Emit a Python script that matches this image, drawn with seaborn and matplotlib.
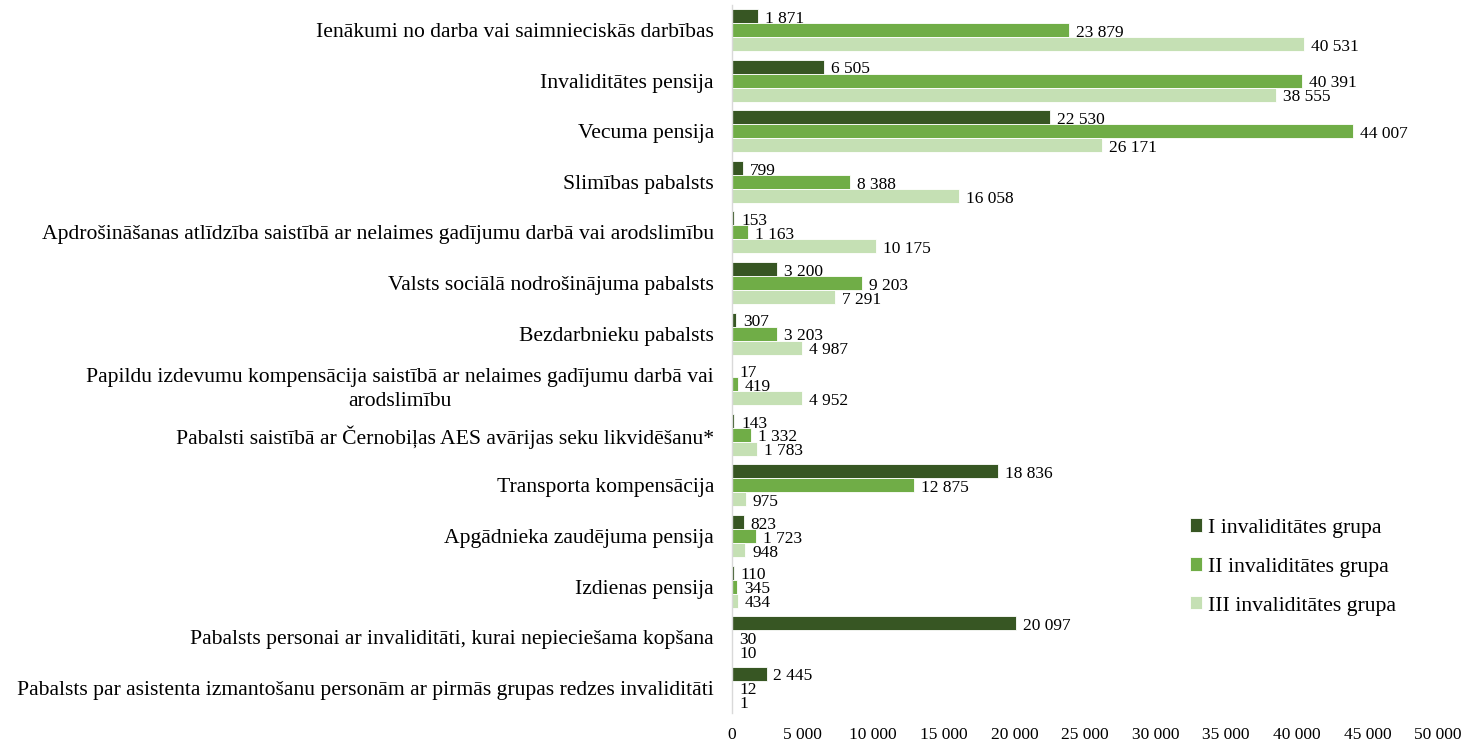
import pandas as pd
import matplotlib.pyplot as plt
import seaborn as sns

categories = [
    "Ienākumi no darba vai saimnieciskās darbības",
    "Invaliditātes pensija",
    "Vecuma pensija",
    "Slimības pabalsts",
    "Apdrošināšanas atlīdzība saistībā ar nelaimes gadījumu darbā vai arodslimību",
    "Valsts sociālā nodrošinājuma pabalsts",
    "Bezdarbnieku pabalsts",
    "Papildu izdevumu kompensācija saistībā ar nelaimes gadījumu darbā vai\narodslimību",
    "Pabalsti saistībā ar Černobiļas AES avārijas seku likvidēšanu*",
    "Transporta kompensācija",
    "Apgādnieka zaudējuma pensija",
    "Izdienas pensija",
    "Pabalsts personai ar invaliditāti, kurai nepieciešama kopšana",
    "Pabalsts par asistenta izmantošanu personām ar pirmās grupas redzes invaliditāti",
]
group_names = ["I invaliditātes grupa", "II invaliditātes grupa", "III invaliditātes grupa"]
group_1 = [1871, 6505, 22530, 799, 153, 3200, 307, 17, 143, 18836, 823, 110, 20097, 2445]
group_2 = [23879, 40391, 44007, 8388, 1163, 9203, 3203, 419, 1332, 12875, 1723, 345, 30, 12]
group_3 = [40531, 38555, 26171, 16058, 10175, 7291, 4987, 4952, 1783, 975, 948, 434, 10, 1]
colors = ["#375623", "#70AD47", "#C5E0B4"]

rows = []
for name, vals in zip(group_names, [group_1, group_2, group_3]):
    for cat, v in zip(categories, vals):
        rows.append({"category": cat, "value": v, "group": name})
df = pd.DataFrame(rows)

sns.set_style("white")
plt.rcParams["font.family"] = ["Liberation Serif", "DejaVu Serif"]
plt.rcParams["text.color"] = "black"
plt.rcParams["xtick.color"] = "black"
plt.rcParams["ytick.color"] = "black"

fig = plt.figure(figsize=(14.62, 7.41), dpi=100)
ax = fig.add_axes([0.5007, 0.0378, 0.4829, 0.9559])

sns.barplot(data=df, y="category", x="value", hue="group", palette=colors,
            orient="h", width=0.83, saturation=1, edgecolor="white",
            linewidth=0.6, ax=ax, order=categories, hue_order=group_names)


def fmt(v):
    return f"{int(v):,}".replace(",", " ")


for cont in ax.containers:
    texts = ax.bar_label(cont, labels=[fmt(b.get_width()) for b in cont],
                         fontsize=12.5, color="black")
    # Excel puts the labels a little below the bar centre
    for t in texts:
        t.xyann = (5, -2)

ax.set_xlim(0, 50000)
ax.set_xticks(range(0, 50001, 5000))
ax.set_xticklabels([fmt(v) for v in range(0, 50001, 5000)], fontsize=12.5)
ax.set_xlabel("")
ax.set_ylabel("")
ax.tick_params(axis="y", labelsize=15.6, length=0, pad=13, labelcolor="black")
ax.tick_params(axis="x", length=0, pad=10, labelcolor="black")
for lab in ax.get_yticklabels():
    lab.set_multialignment("center")
    lab.set_linespacing(1.35)

for s in ["top", "right", "bottom"]:
    ax.spines[s].set_visible(False)
ax.spines["left"].set_color("#D9D9D9")
ax.spines["left"].set_linewidth(1)

ax.legend(loc="center left", bbox_to_anchor=(0.8003, 0.2348),
          bbox_transform=fig.transFigure, frameon=False,
          fontsize=15.7, handlelength=0.55, handleheight=0.55, handletextpad=0.3,
          labelspacing=0.9, labelcolor="black")

fig.savefig("out.png", dpi=100)
